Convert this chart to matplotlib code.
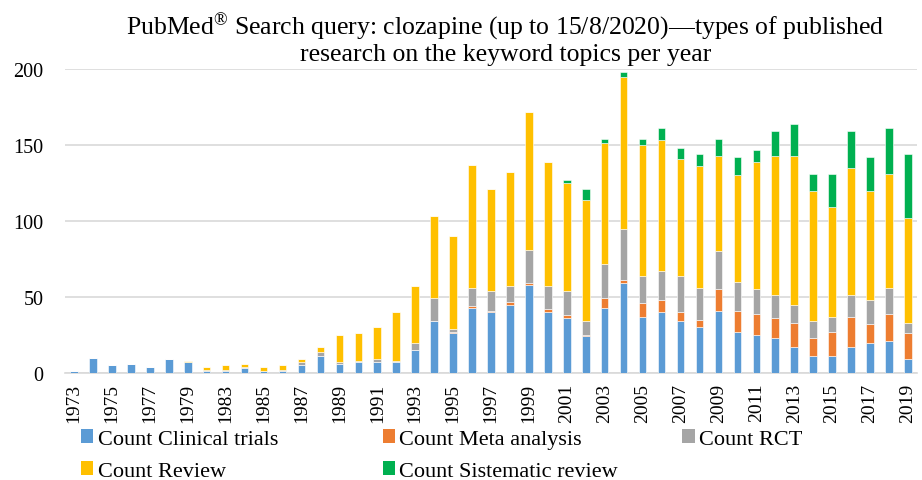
import numpy as np
import matplotlib.pyplot as plt
from matplotlib.patches import Patch

# categories (one slot between 1979 and 1983 is an unlabeled year)
years = [1973, 1974, 1975, 1976, 1977, 1978, 1979, 1981, 1983, 1984,
         1985, 1986, 1987, 1988, 1989, 1990, 1991, 1992, 1993, 1994,
         1995, 1996, 1997, 1998, 1999, 2000, 2001, 2002, 2003, 2004,
         2005, 2006, 2007, 2008, 2009, 2010, 2011, 2012, 2013, 2014,
         2015, 2016, 2017, 2018, 2019]

clinical = [1, 10, 5, 6, 4, 9, 7, 1, 1, 3,
            1, 1, 5, 11, 6, 7, 7, 7, 15, 34,
            26, 43, 40, 45, 58, 40, 36, 24, 43, 59,
            37, 40, 34, 30, 41, 27, 25, 23, 17, 11,
            11, 17, 20, 21, 9]
meta = [0, 0, 0, 0, 0, 0, 0, 0, 0, 0,
        0, 0, 0, 0, 0, 0, 0, 0, 0, 0,
        1, 1, 1, 2, 1, 2, 2, 1, 6, 2,
        9, 8, 6, 5, 14, 14, 14, 13, 16, 12,
        16, 20, 12, 18, 17]
rct = [0, 0, 0, 0, 0, 0, 0, 1, 1, 1,
       0, 1, 2, 3, 1, 1, 2, 1, 5, 15,
       2, 12, 13, 10, 22, 15, 16, 9, 23, 34,
       18, 19, 24, 21, 25, 19, 16, 15, 12, 11,
       10, 14, 16, 17, 7]
review = [0, 0, 0, 0, 0, 0, 1, 2, 3, 2,
          3, 3, 2, 3, 18, 18, 21, 32, 37, 54,
          61, 81, 67, 75, 91, 82, 71, 80, 79, 100,
          86, 86, 77, 80, 63, 70, 84, 92, 98, 86,
          72, 84, 72, 75, 69]
sistematic = [0, 0, 0, 0, 0, 0, 0, 0, 0, 0,
              0, 0, 0, 0, 0, 0, 0, 0, 0, 0,
              0, 0, 0, 0, 0, 0, 2, 7, 3, 3,
              4, 8, 7, 8, 11, 12, 8, 16, 21, 11,
              22, 24, 22, 30, 42]

series_names = ['Count Clinical trials', 'Count Meta analysis', 'Count RCT',
                'Count Review', 'Count Sistematic review']
colors = ['#5B9BD5', '#ED7D31', '#A5A5A5', '#FFC000', '#00B050']

serif = 'Liberation Serif'
plt.rcParams['font.family'] = [serif, 'DejaVu Serif']
plt.rcParams['mathtext.fontset'] = 'custom'
plt.rcParams['mathtext.rm'] = serif
plt.rcParams['mathtext.it'] = serif

fig = plt.figure(figsize=(9.22, 4.81), dpi=100)
ax = fig.add_axes([0.070, 0.2225, 0.925, 0.632])

x = np.arange(len(years))
bottom = np.zeros(len(years))
for vals, name, col in zip([clinical, meta, rct, review, sistematic], series_names, colors):
    vals = np.array(vals, dtype=float)
    ax.bar(x, vals, width=0.4, bottom=bottom, color=col, edgecolor='white',
           linewidth=0.4, label=name, zorder=3)
    bottom += vals

ax.set_xlim(-0.5, len(years) - 0.5)
ax.set_ylim(0, 200)
ax.set_yticks([0, 50, 100, 150, 200])
ax.yaxis.grid(True, color='#D9D9D9', linewidth=1.2, zorder=0)
for s in ['top', 'right', 'left']:
    ax.spines[s].set_visible(False)
ax.spines['bottom'].set_color('#D9D9D9')
ax.spines['bottom'].set_linewidth(1.2)

ax.set_xticks(x[::2])
ax.set_xticklabels([str(y) for y in years[::2]], rotation=90, fontsize=14)
ax.tick_params(axis='x', length=0, pad=7)
ax.tick_params(axis='y', length=0, pad=15, labelsize=14.5)

fig.text(0.548, 0.975,
         'PubMed$^{\u00ae}$ Search query: clozapine (up to 15/8/2020)\u2014types of published\n'
         'research on the keyword topics per year',
         ha='center', va='top', fontsize=18.5, linespacing=1.08)

# legend laid out in three columns, two rows
handles = [Patch(facecolor=c) for c in colors]
cols = [[0, 3], [1, 4], [2]]
col_x = [0.088, 0.415, 0.740]
for cx, idx in zip(col_x, cols):
    fig.legend([handles[i] for i in idx], [series_names[i] for i in idx],
               loc='upper left', bbox_to_anchor=(cx, 0.105), ncol=1,
               frameon=False, fontsize=16, handlelength=0.55, handleheight=0.55,
               handletextpad=0.2, labelspacing=0.55, borderaxespad=0, borderpad=0)

fig.savefig('out.png', dpi=100)
